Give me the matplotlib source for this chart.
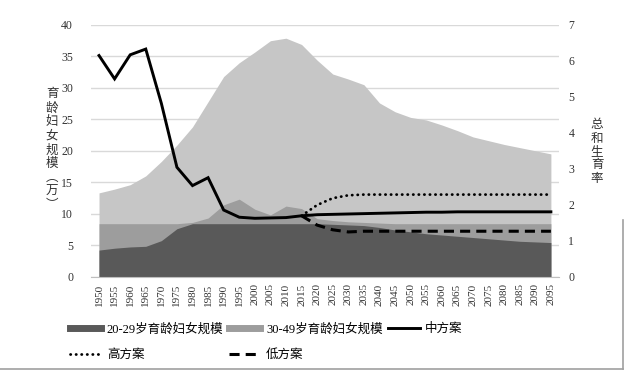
import matplotlib.pyplot as plt
import numpy as np
from matplotlib.lines import Line2D

plt.rcParams['font.family'] = ['Liberation Serif', 'Noto Sans CJK SC']

years = ['1950', '1955', '1960', '1965', '1970', '1975', '1980', '1985', '1990', '1995',
         '2000', '2005', '2010', '2015', '2020', '2025', '2030', '2035', '2040', '2045',
         '2050', '2055', '2060', '2065', '2070', '2075', '2080', '2085', '2090', '2095']

# light grey area (largest series)
women_total = [13.3, 13.9, 14.6, 16.0, 18.3, 20.9, 23.8, 27.8, 31.8, 34.0,
               35.7, 37.5, 37.9, 36.9, 34.4, 32.2, 31.4, 30.5, 27.6, 26.2,
               25.3, 24.9, 24.1, 23.2, 22.2, 21.6, 21.0, 20.5, 20.0, 19.5]
# medium grey area
women_30_49 = [8.4, 8.4, 8.4, 8.4, 8.4, 8.4, 8.6, 9.3, 11.4, 12.3,
               10.7, 9.8, 11.2, 10.8, 9.2, 8.9, 8.7, 8.6, 8.5, 8.4,
               8.4, 8.4, 8.4, 8.4, 8.4, 8.4, 8.4, 8.4, 8.4, 8.4]
# dark grey area
women_20_29 = [4.2, 4.5, 4.7, 4.8, 5.7, 7.6, 8.4, 8.4, 8.4, 8.4,
               8.4, 8.4, 8.4, 8.4, 8.4, 8.3, 8.2, 8.1, 7.8, 7.4,
               7.1, 6.8, 6.6, 6.4, 6.2, 6.0, 5.8, 5.6, 5.5, 5.4]

# total fertility rate, three scenarios
tfr_mid = [6.15, 5.5, 6.17, 6.33, 4.82, 3.04, 2.53, 2.75, 1.85, 1.65,
           1.62, 1.63, 1.64, 1.69, 1.72, 1.73, 1.74, 1.75, 1.76, 1.77,
           1.78, 1.79, 1.79, 1.80, 1.80, 1.80, 1.80, 1.80, 1.80, 1.80]
tfr_high = [np.nan] * 13 + [1.69, 1.99, 2.18, 2.26, 2.28, 2.28, 2.28,
                            2.28, 2.28, 2.28, 2.28, 2.28, 2.28, 2.28, 2.28, 2.28, 2.28]
tfr_low = [np.nan] * 13 + [1.69, 1.43, 1.30, 1.24, 1.26, 1.26, 1.26,
                           1.26, 1.26, 1.26, 1.26, 1.26, 1.26, 1.26, 1.26, 1.26, 1.26]

c_light = '#c6c6c6'
c_mid = '#9d9d9d'
c_dark = '#595959'

fig = plt.figure(figsize=(6.3, 3.73), dpi=100)
ax = fig.add_axes([0.1448, 0.2587, 0.742, 0.6743])
x = np.arange(len(years))

ax.fill_between(x, 0, women_total, color=c_light, linewidth=0)
ax.fill_between(x, 0, women_30_49, color=c_mid, linewidth=0)
ax.fill_between(x, 0, women_20_29, color=c_dark, linewidth=0)

ax.set_xlim(-0.5, len(years) - 0.5)
ax.set_ylim(0, 40)
ax.set_yticks(range(0, 41, 5))
ax.set_xticks(x)
ax.set_xticklabels(years, rotation=90, fontsize=8)
ax.tick_params(axis='y', length=0, labelsize=8.5, colors='#333333', pad=13)
ax.tick_params(axis='x', length=0, labelsize=8, colors='#333333', pad=5)
ax.set_axisbelow(True)
ax.grid(axis='y', color='#d9d9d9', linewidth=1)
for s in ['top', 'left', 'right']:
    ax.spines[s].set_visible(False)
ax.spines['bottom'].set_color('#bfbfbf')

ax2 = ax.twinx()
ax2.plot(x, tfr_mid, color='black', linewidth=2.1, solid_joinstyle='miter')
ax2.plot(x, tfr_high, color='black', linewidth=2.0, linestyle=(0, (0.1, 1.9)),
         dash_capstyle='round')
ax2.plot(x, tfr_low, color='black', linewidth=2.2, linestyle=(0, (3.3, 2.0)))
ax2.set_ylim(0, 7)
ax2.set_yticks(range(0, 8))
ax2.tick_params(axis='y', length=0, labelsize=8.5, colors='#333333', pad=7)
for s in ax2.spines.values():
    s.set_visible(False)

fig.text(52 / 630, 1 - 150 / 373, '\n'.join('育龄妇女规模') + '\n︵\n万\n︶',
         ha='center', va='center', fontsize=9, linespacing=1.2, color='#333333')
fig.text(597 / 630, 1 - 152 / 373, '\n'.join('总和生育率'),
         ha='center', va='center', fontsize=9, linespacing=1.15, color='#333333')

handles = [
    Line2D([], [], color=c_dark, linewidth=5),
    Line2D([], [], color='black', linewidth=2.0, linestyle=(0, (0.1, 1.9)), dash_capstyle='round'),
    Line2D([], [], color=c_mid, linewidth=5),
    Line2D([], [], color='black', linewidth=2.2, linestyle=(0, (3.3, 2.0))),
    Line2D([], [], color='black', linewidth=2.1),
]
labels = ['20-29岁育龄妇女规模', '高方案', '30-49岁育龄妇女规模', '低方案', '中方案']
fig.legend(handles, labels, loc='upper left', bbox_to_anchor=(70 / 630, 1 - 323 / 373),
           ncol=3, frameon=False, fontsize=9, handlelength=2.5, handletextpad=0.45,
           columnspacing=0.45, labelspacing=1.1, borderpad=0, borderaxespad=0)

# outer frame shadow lines
fig.add_artist(Line2D([0, 623 / 630], [1 - 369 / 373] * 2, color='#a0a0a0', linewidth=1.2))
fig.add_artist(Line2D([623 / 630] * 2, [1 - 369 / 373, 1 - 220 / 373], color='#a0a0a0', linewidth=1.2))

plt.savefig('out.png', dpi=100)
